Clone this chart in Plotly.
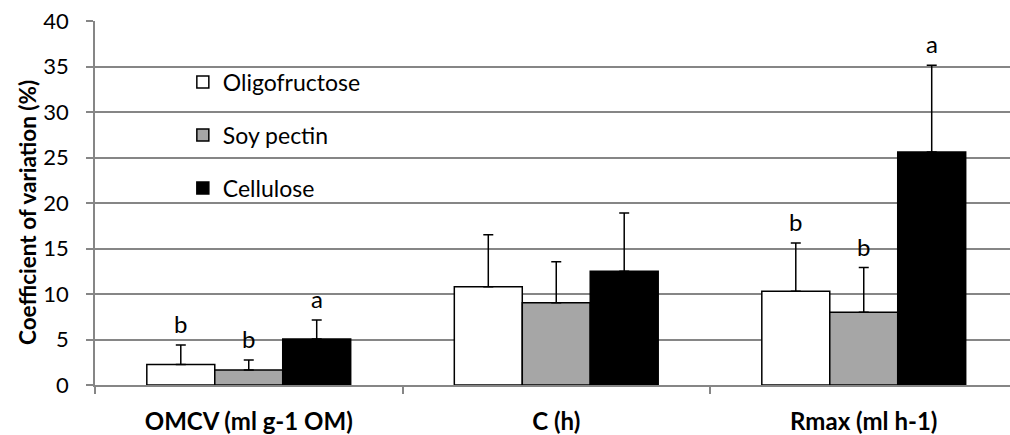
import plotly.graph_objects as go

# Measured parameters and treatments
categories = ["OMCV (ml g-1 OM)", "C (h)", "Rmax (ml h-1)"]
series_names = ["Oligofructose", "Soy pectin", "Cellulose"]

oligofructose_cv = [2.25, 10.8, 10.3]
oligofructose_err = [2.15, 5.7, 5.3]
soy_pectin_cv = [1.65, 9.05, 8.0]
soy_pectin_err = [1.1, 4.5, 4.9]
cellulose_cv = [5.05, 12.5, 25.6]
cellulose_err = [2.1, 6.4, 9.55]

# Significance letters per treatment and parameter (None = no letter)
oligofructose_letters = ["b", None, "b"]
soy_pectin_letters = ["b", None, "b"]
cellulose_letters = ["a", None, "a"]

y_ticks = [0, 5, 10, 15, 20, 25, 30, 35, 40]

FONT = "Lato, 'Open Sans', sans-serif"
GRID = "#868686"

W, H = 1010, 435
M_L, M_R, M_T, M_B = 95, 0, 21, 50
PLOT_W = W - M_L - M_R
PLOT_H = H - M_T - M_B

values = [oligofructose_cv, soy_pectin_cv, cellulose_cv]
errors = [oligofructose_err, soy_pectin_err, cellulose_err]
letters = [oligofructose_letters, soy_pectin_letters, cellulose_letters]
fills = ["#FFFFFF", "#A6A6A6", "#000000"]
legend_ids = ["legend", "legend2", "legend3"]

fig = go.Figure()
for name, vals, errs, fill, lg in zip(series_names, values, errors, fills, legend_ids):
    fig.add_trace(go.Bar(
        name=name,
        x=categories,
        y=vals,
        marker=dict(color=fill, line=dict(color="#000000", width=1.5)),
        error_y=dict(type="data", array=errs, symmetric=False,
                     arrayminus=[0] * len(errs), color="#000000",
                     thickness=1.5, width=5),
        legend=lg,
        showlegend=True,
    ))

# Letters above the error bars, offset to each bar of the group
n_series = len(series_names)
group_frac = 0.663
bar_frac = group_frac / n_series
for s, (vals, errs, labs) in enumerate(zip(values, errors, letters)):
    offset = (s - (n_series - 1) / 2) * bar_frac
    for i, lab in enumerate(labs):
        if lab is None:
            continue
        fig.add_annotation(
            x=i + offset, y=vals[i] + errs[i], xref="x", yref="y",
            text=lab, showarrow=False, yanchor="bottom", yshift=5,
            font=dict(family=FONT, size=24, color="#000000"),
        )

# Y-axis title, left of the tick labels
fig.add_annotation(
    x=(27 - M_L) / PLOT_W, y=(H - M_B - 213) / PLOT_H,
    xref="paper", yref="paper",
    text="<b>Coefficient of variation (%)</b>", textangle=-90,
    showarrow=False, xanchor="center", yanchor="middle",
    font=dict(family=FONT, size=22.5, color="#000000"),
)

legend_common = dict(
    bgcolor="rgba(0,0,0,0)", borderwidth=0, xanchor="left", yanchor="middle",
    font=dict(family=FONT, size=23, color="#000000"), itemwidth=30,
    tracegroupgap=0, visible=True,
)
legend_rows_px = [82, 135, 188]
legend_x = 0.096

fig.update_layout(
    width=W, height=H,
    margin=dict(l=M_L, r=M_R, t=M_T, b=M_B),
    paper_bgcolor="#FFFFFF", plot_bgcolor="#FFFFFF",
    showlegend=True,
    barmode="group", bargap=1 - group_frac, bargroupgap=0,
    font=dict(family=FONT, color="#000000"),
    legend=dict(x=legend_x, y=(H - M_B - legend_rows_px[0]) / PLOT_H, **legend_common),
    legend2=dict(x=legend_x, y=(H - M_B - legend_rows_px[1]) / PLOT_H, **legend_common),
    legend3=dict(x=legend_x, y=(H - M_B - legend_rows_px[2]) / PLOT_H, **legend_common),
    xaxis=dict(
        type="category", range=[-0.5, -0.5 + PLOT_W / 307.5],
        showline=True, linecolor=GRID, linewidth=1.5,
        ticks="outside", tickson="boundaries", ticklen=7, tickwidth=1.5,
        tickcolor=GRID, showgrid=False, ticklabelstandoff=14,
        tickfont=dict(family=FONT, size=24, color="#000000", weight="bold"),
    ),
    yaxis=dict(
        range=[0, 40], tickvals=y_ticks,
        showline=True, linecolor=GRID, linewidth=1.5,
        ticks="outside", ticklen=7, tickwidth=1.5, tickcolor=GRID,
        showgrid=True, gridcolor=GRID, gridwidth=1.5, zeroline=False,
        ticklabelstandoff=13,
        tickfont=dict(family=FONT, size=22, color="#000000"),
    ),
)

fig.write_html("out.html")
